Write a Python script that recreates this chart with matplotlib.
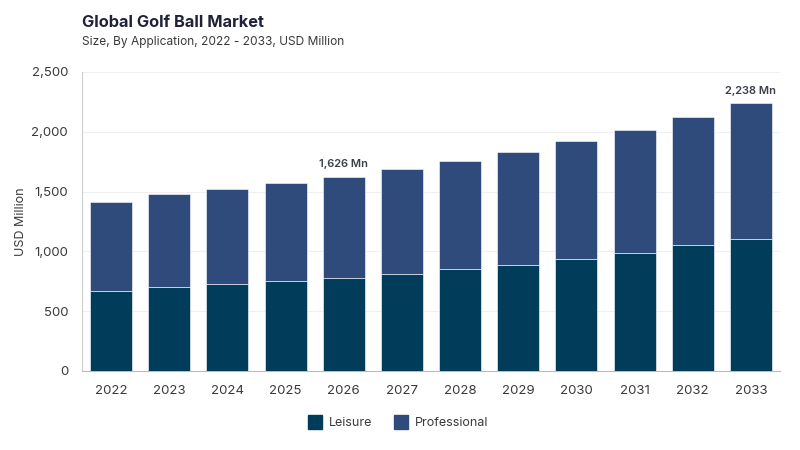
import matplotlib
matplotlib.use("Agg")
import matplotlib.pyplot as plt
from matplotlib.ticker import FuncFormatter
from matplotlib.lines import Line2D

years = ["2022", "2023", "2024", "2025", "2026", "2027", "2028", "2029", "2030", "2031", "2032", "2033"]
leisure = [668, 702, 727, 752, 780, 814, 850, 889, 939, 989, 1051, 1106]
totals = [1413, 1480, 1524, 1572, 1626, 1686, 1756, 1834, 1923, 2015, 2121, 2238]
professional = [t - l for t, l in zip(totals, leisure)]
annotated_years = ["2026", "2033"]

c_leisure = "#013d5a"
c_prof = "#2f4b7c"

plt.rcParams['font.family'] = ['Inter', 'DejaVu Sans']

fig = plt.figure(figsize=(8, 4.5), dpi=100)
ax = fig.add_axes([0.1025, 0.1756, 0.8725, 0.6644])

x = list(range(len(years)))
w = 0.72
ax.bar(x, leisure, width=w, color=c_leisure, edgecolor="#ffffff", linewidth=0.4, zorder=3)
ax.bar(x, professional, width=w, bottom=leisure, color=c_prof, edgecolor="#ffffff", linewidth=0.4, zorder=3)

for i, y in enumerate(years):
    if y in annotated_years:
        ax.text(i, totals[i] + 60, f"{totals[i]:,} Mn", ha="center", va="bottom",
                fontsize=8, fontweight="semibold", color="#3a3f4b")

ax.set_xlim(-0.5, len(years) - 0.5)
ax.set_ylim(0, 2500)
ax.set_yticks([0, 500, 1000, 1500, 2000, 2500])
ax.yaxis.set_major_formatter(FuncFormatter(lambda v, p: f"{int(v):,}"))
ax.set_xticks(x)
ax.set_xticklabels(years)
ax.tick_params(axis="both", length=0, labelsize=9.5, labelcolor="#3a3a3a")
ax.tick_params(axis="x", pad=10)
ax.tick_params(axis="y", pad=10)
ax.grid(axis="y", color="#f0f0f0", linewidth=0.8, zorder=0)
ax.set_axisbelow(True)
for s in ["top", "right"]:
    ax.spines[s].set_visible(False)
ax.spines["left"].set_color("#cccccc")
ax.spines["bottom"].set_color("#bbbbbb")
ax.set_ylabel("USD Million", fontsize=9, color="#3a3a3a", labelpad=3)

fig.text(0.1025, 0.951, "Global Golf Ball Market", fontsize=11.8, fontweight="bold",
         color="#1f2238", ha="left", va="center")
fig.text(0.1025, 0.907, "Size, By Application, 2022 - 2033, USD Million", fontsize=8.6,
         color="#3a3a3a", ha="left", va="center")

handles = [Line2D([0], [0], marker="s", linestyle="", markersize=10, markerfacecolor=c_leisure,
                  markeredgecolor=c_leisure),
           Line2D([0], [0], marker="s", linestyle="", markersize=10, markerfacecolor=c_prof,
                  markeredgecolor=c_prof)]
fig.legend(handles, ["Leisure", "Professional"], loc="center", bbox_to_anchor=(0.494, 0.06),
           ncol=2, frameon=False, fontsize=9, handletextpad=0.1, columnspacing=1.3,
           labelcolor="#3a3a3a")

fig.savefig("out.png", dpi=100, facecolor="white")
